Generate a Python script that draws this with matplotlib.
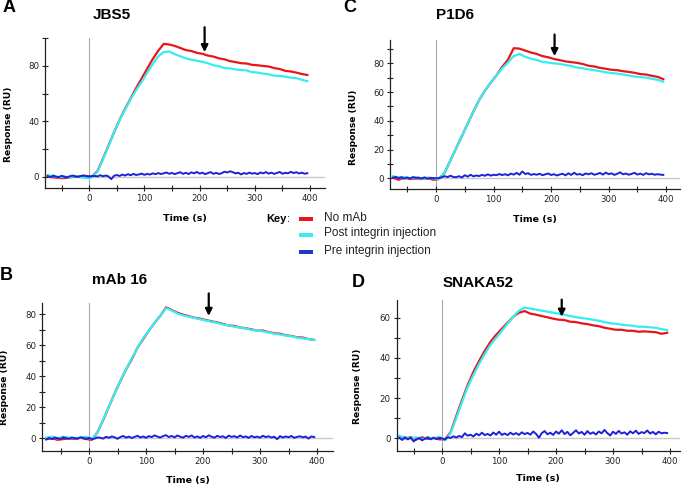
import numpy as np
import matplotlib
matplotlib.use("Agg")
import matplotlib.pyplot as plt
from matplotlib.patches import Rectangle

# ---------------- data ----------------
# red / cyan traces sampled every 10 s from -75 s to 395 s
t_rc = np.arange(-75, 400, 10)
# blue traces sampled every 5 s from -75 s to 395 s
t_b = np.arange(-75, 400, 5)

titles = ["JBS5", "P1D6", "mAb 16", "SNAKA52"]
letters = ["A", "C", "B", "D"]
series_names = ["No mAb", "Post integrin injection", "Pre integrin injection"]

red_A = [0.5, -0.5, -1.0, -1.0, -0.5, 0.0, 0.3, 0.5,
         0.0, 4.0, 13.0, 22.5, 32.0, 41.0, 49.0, 56.5,
         64.0, 71.0, 78.0, 85.0, 91.0, 96.0, 95.5, 94.5,
         93.0, 91.5, 90.8, 89.5, 88.8, 87.5, 86.8, 85.5,
         84.8, 83.5, 82.8, 82.0, 81.8, 80.8, 80.5, 80.0,
         79.6, 78.5, 77.8, 76.5, 76.0, 75.2, 74.2, 73.5]
cyan_A = [1.0, 0.5, -0.5, 0.0, -0.5, 0.5, -0.5, -1.0,
          -0.5, 3.5, 12.5, 22.0, 32.0, 41.0, 48.5, 56.0,
          62.5, 68.5, 75.0, 81.5, 87.0, 90.0, 90.5, 88.5,
          87.0, 85.5, 84.5, 83.8, 83.0, 82.0, 80.5, 79.8,
          78.5, 78.2, 77.5, 77.0, 76.8, 75.5, 75.2, 74.5,
          74.0, 73.0, 72.8, 72.3, 71.5, 71.2, 70.0, 69.0]
blue_A = [0.5, -0.5, 0.8, 0.0, -0.3, 0.6, 0.0, -0.5, 0.3, 0.8,
          0.2, -0.2, 0.5, 0.9, 0.3, 0.0, 0.4, 0.5, 0.2, 1.0,
          0.3, 0.8, 0.2, -1.8, 0.6, 1.2, 0.5, 1.5, 0.8, 1.8,
          1.0, 2.0, 1.2, 1.6, 2.2, 1.3, 2.0, 1.5, 2.4, 1.8,
          2.6, 1.9, 2.4, 3.0, 2.1, 2.7, 1.8, 2.6, 3.2, 2.0,
          2.8, 1.9, 3.1, 2.4, 3.4, 2.2, 2.9, 1.8, 2.6, 3.3,
          2.0, 2.8, 1.9, 2.5, 3.6, 3.0, 3.9, 3.2, 2.4, 2.8,
          1.6, 2.6, 2.0, 2.9, 2.2, 2.6, 1.8, 3.0, 2.4, 3.3,
          2.2, 2.9, 2.0, 2.7, 3.4, 2.1, 2.8, 2.4, 3.5, 2.6,
          3.2, 2.3, 2.9, 2.1, 2.5]

red_C = [0.5, -1.0, 0.5, -0.5, 0.0, -0.5, 0.3, -1.0,
         -0.5, 4.0, 12.5, 21.0, 29.5, 38.0, 46.5, 54.5,
         61.0, 66.5, 71.5, 77.5, 82.5, 90.5, 90.2, 88.8,
         87.5, 86.5, 85.0, 84.2, 83.0, 82.2, 81.3, 80.8,
         80.3, 79.5, 78.3, 77.8, 76.8, 76.2, 75.5, 75.2,
         74.5, 74.0, 73.4, 72.5, 72.2, 71.3, 70.6, 69.0]
cyan_C = [1.5, 0.5, 1.0, 0.0, 0.8, -0.3, 0.5, 0.0,
          -0.5, 4.0, 12.5, 21.0, 29.5, 38.0, 46.5, 54.5,
          61.0, 66.5, 71.5, 76.5, 80.5, 85.0, 86.5, 84.5,
          83.2, 82.3, 81.0, 80.5, 80.0, 79.6, 78.8, 78.2,
          77.0, 76.5, 75.8, 75.2, 74.5, 73.8, 73.2, 72.8,
          72.2, 71.5, 70.8, 70.5, 70.0, 69.2, 68.5, 67.2]
blue_C = [0.5, 1.0, 0.2, 0.8, -0.2, 0.6, 0.0, 0.9, 0.3, 0.5,
          0.0, 0.7, -0.3, 0.4, 0.2, 0.0, 0.3, 0.8, 1.5, 0.9,
          1.8, 1.0, 0.8, 1.5, 0.6, 2.2, 1.2, 2.5, 1.4, 2.0,
          1.6, 2.4, 1.8, 2.8, 1.9, 2.5, 2.2, 3.0, 2.3, 2.9,
          2.1, 3.3, 2.6, 3.8, 2.5, 4.8, 3.0, 3.6, 2.4, 3.0,
          2.5, 3.2, 2.2, 2.8, 3.4, 2.3, 2.9, 2.0, 2.7, 3.2,
          2.1, 3.5, 2.4, 3.9, 2.6, 3.0, 2.2, 3.4, 2.8, 3.6,
          2.5, 3.0, 3.8, 2.6, 4.0, 2.9, 3.5, 2.4, 3.2, 4.2,
          2.8, 3.4, 2.5, 3.1, 3.9, 2.6, 3.3, 2.4, 3.6, 2.8,
          3.2, 2.5, 2.9, 2.6, 2.4]

red_B = [-0.5, 0.0, -1.0, -0.5, 0.0, -0.5, 0.3, -0.5,
         -1.0, 4.0, 12.0, 20.5, 29.0, 37.0, 44.5, 51.0,
         58.5, 64.0, 69.5, 74.5, 79.0, 84.5, 82.8, 81.0,
         79.8, 78.8, 77.8, 77.2, 76.3, 75.5, 74.8, 73.8,
         72.8, 72.5, 71.5, 71.0, 70.3, 69.5, 69.5, 68.5,
         67.8, 67.5, 66.5, 66.0, 65.2, 65.0, 64.0, 63.5]
cyan_B = [0.5, 1.0, 0.0, 1.0, 0.5, 0.0, 0.5, 1.0,
          -0.5, 4.0, 12.3, 20.5, 29.0, 37.0, 44.5, 51.5,
          58.5, 64.5, 69.5, 74.5, 79.0, 84.0, 82.5, 80.5,
          79.3, 78.5, 77.6, 76.8, 76.0, 75.2, 74.5, 73.5,
          72.8, 72.0, 71.5, 70.8, 70.0, 69.5, 69.0, 68.3,
          67.5, 67.0, 66.3, 65.8, 65.0, 64.5, 64.0, 63.5]
blue_B = [-0.8, 0.2, -0.5, 0.5, 0.0, -0.4, 0.6, 0.0, -0.3, 0.5,
          0.1, -0.2, 0.6, 0.2, -0.3, 0.3, -0.5, -0.2, 0.6, 0.3,
          -0.2, 1.0, 0.3, 1.2, 0.6, -0.3, 0.8, 1.5, 0.4, 1.1,
          0.2, 0.9, 1.6, 0.5, 1.2, 0.3, 1.4, 0.8, 1.9, 1.1,
          0.5, 1.4, 2.0, 0.8, 1.5, 0.6, 1.8, 1.0, 0.4, 1.6,
          0.9, 1.8, 0.5, 1.2, 0.3, 1.5, 0.7, 1.9, 1.0, 0.4,
          1.6, 0.8, 1.3, 0.2, 1.7, 0.9, 1.4, 0.5, 1.8, 0.7,
          1.2, 0.3, 1.5, 0.6, 1.1, 0.4, 1.6, 0.8, 1.3, 0.5,
          1.0, -0.6, 1.4, 0.5, 1.2, 0.7, 1.5, 0.3, 0.9, 1.3,
          0.6, 1.1, -0.2, 1.2, 0.8]

red_D = [1.0, 0.0, 0.5, -0.5, 0.5, -0.3, 0.2, -0.5,
         -0.5, 3.0, 11.0, 19.0, 26.5, 33.0, 38.5, 43.5,
         48.0, 51.5, 54.5, 57.5, 60.5, 62.5, 63.3, 62.0,
         61.5, 60.8, 60.2, 59.5, 59.0, 58.8, 58.0, 57.8,
         57.2, 56.8, 56.2, 55.8, 55.0, 54.5, 54.0, 54.0,
         53.5, 53.5, 53.0, 53.2, 53.0, 52.8, 52.0, 52.5]
cyan_D = [1.0, 0.5, 0.0, 0.5, -0.5, 0.5, 0.0, 0.8,
          -1.0, 2.5, 10.0, 18.0, 25.5, 31.5, 37.0, 42.0,
          46.5, 50.0, 53.5, 57.0, 60.5, 63.5, 65.0, 64.5,
          64.0, 63.5, 63.0, 62.5, 62.0, 61.5, 60.8, 60.3,
          59.8, 59.5, 59.0, 58.5, 57.8, 57.2, 57.0, 56.5,
          56.2, 56.0, 55.5, 55.5, 55.2, 55.0, 54.3, 53.8]
blue_D = [0.3, -0.8, 0.5, -0.5, 0.4, -1.5, -0.6, 0.2, -1.0, -0.2,
          0.5, -0.5, 0.3, -0.3, 0.2, 0.0, -0.6, 0.5, 0.2, 1.0,
          0.4, 1.2, 0.6, 2.5, 1.3, 1.8, 0.9, 2.3, 1.5, 2.8,
          1.6, 2.2, 1.4, 2.9, 1.8, 3.3, 1.7, 2.4, 1.6, 2.8,
          1.9, 2.6, 1.7, 3.0, 2.1, 2.7, 1.8, 3.4, 2.2, 0.3,
          2.6, 3.6, 2.0, 2.8, 1.7, 3.4, 2.3, 4.0, 2.1, 3.2,
          1.5, 2.7, 4.0, 2.4, 3.2, 1.8, 3.6, 2.2, 3.0, 1.9,
          3.4, 2.5, 4.2, 2.6, 1.4, 3.3, 2.2, 3.7, 2.4, 3.0,
          1.8, 3.5, 2.5, 3.8, 2.2, 3.1, 2.6, 3.9, 2.4, 3.2,
          2.0, 3.3, 2.5, 2.8, 2.6]

reds = [red_A, red_C, red_B, red_D]
cyans = [cyan_A, cyan_C, cyan_B, cyan_D]
blues = [blue_A, blue_C, blue_B, blue_D]

# arrow markers (time, tail value, tip value)
arrow_t = [209, 206, 210, 210]
arrow_tail = [108, 100, 93.5, 69]
arrow_tip = [90, 85, 79, 60.5]

# y tick settings per panel
y_major = [[0, 40, 80], [0, 20, 40, 60, 80], [0, 20, 40, 60, 80], [0, 20, 40, 60]]
y_minor = [[20, 60, 100], [10, 30, 50, 70, 90], [10, 30, 50, 70], [10, 30, 50]]
x_major = [0, 100, 200, 300, 400]
x_minor = [-50, 50, 150, 250, 350]

# ---------------- layout ----------------
W, H = 683, 487
RED = "#e8161a"
CYAN = "#33eef2"
BLUE = "#1c22d8"
BLUE_KEY = "#1b3bc0"

fig = plt.figure(figsize=(W / 100, H / 100), dpi=100)

# axes rects in pixels: left, right, top, bottom
rects = [(45, 325, 38.3, 188), (390, 680, 40, 189), (42, 333, 302.7, 451), (396.7, 680, 300, 451)]
xlims = [(-80, 427), (-80, 424), (-82.5, 428), (-79.5, 417.5)]
ylims = [(-8.2, 100), (-7.4, 96.2), (-8.2, 87.5), (-6.3, 68.8)]

title_pos = [(112, 15), (455, 15), (120, 280), (478, 283)]
letter_pos = [(3, 8), (343, 8), (0, 275), (352, 282.5)]
xlabel_pos = [(185, 218), (535, 219), (188, 480), (538, 479)]
ylabel_pos = [(9, 124), (353, 127), (5, 387), (358, 386)]


def fx(px):
    return px / W


def fy(py):
    return 1 - py / H


for i in range(4):
    l, r, t, b = rects[i]
    ax = fig.add_axes([fx(l), fy(b), (r - l) / W, (b - t) / H])
    ax.set_xlim(*xlims[i])
    ax.set_ylim(*ylims[i])
    ax.axhline(0, color="#c8c8c8", lw=1.0, zorder=0)
    ax.axvline(0, color="#a8a8a8", lw=0.8, zorder=0)
    ax.plot(t_rc, reds[i], color=RED, lw=1.6, zorder=2)
    ax.plot(t_rc, cyans[i], color=CYAN, lw=1.6, zorder=3)
    ax.plot(t_b, blues[i], color=BLUE, lw=1.4, zorder=4)

    for s in ["top", "right"]:
        ax.spines[s].set_visible(False)
    for s in ["left", "bottom"]:
        ax.spines[s].set_linewidth(0.9)
        ax.spines[s].set_color("#222222")

    ax.set_xticks(x_major)
    ax.set_xticks(x_minor, minor=True)
    ax.set_yticks(y_major[i])
    ax.set_yticks(y_minor[i], minor=True)
    ax.tick_params(axis="both", which="both", direction="inout", length=4.5,
                   width=0.8, color="#222222", labelsize=6.2, labelcolor="#222222",
                   pad=2)
    for lab in ax.get_xticklabels() + ax.get_yticklabels():
        lab.set_family(["DejaVu Sans"])

    ax.annotate("", xy=(arrow_t[i], arrow_tip[i]), xytext=(arrow_t[i], arrow_tail[i]),
                arrowprops=dict(arrowstyle="-|>", color="black", lw=1.6,
                                mutation_scale=10, shrinkA=0, shrinkB=0),
                annotation_clip=False, zorder=6)

    fig.text(fx(title_pos[i][0]), fy(title_pos[i][1]), titles[i], ha="center", va="center",
             fontsize=11, fontweight="bold", family=["Liberation Sans", "DejaVu Sans"])
    fig.text(fx(letter_pos[i][0]), fy(letter_pos[i][1]), letters[i], ha="left", va="center",
             fontsize=13, fontweight="bold", family=["Liberation Sans", "DejaVu Sans"])
    fig.text(fx(xlabel_pos[i][0]), fy(xlabel_pos[i][1]), "Time (s)", ha="center", va="center",
             fontsize=6.8, fontweight="bold", family=["DejaVu Sans"])
    fig.text(fx(ylabel_pos[i][0]), fy(ylabel_pos[i][1]), "Response (RU)", ha="center",
             va="center", rotation=90, fontsize=6.6, fontweight="bold", family=["DejaVu Sans"])

# ---------------- key ----------------
fig.text(fx(287), fy(219.5), "Key", ha="right", va="center", fontsize=8,
         fontweight="bold", family=["Liberation Sans", "DejaVu Sans"])
fig.text(fx(287), fy(219.5), ":", ha="left", va="center", fontsize=8,
         family=["Liberation Sans", "DejaVu Sans"])
key_rows = [219.3, 234.7, 252.3]
key_cols = [RED, CYAN, BLUE_KEY]
for yk, ck, name in zip(key_rows, key_cols, series_names):
    fig.patches.append(Rectangle((fx(298.5), fy(yk + 2)), 14.5 / W, 4 / H,
                                 transform=fig.transFigure, color=ck, lw=0))
    fig.text(fx(324), fy(yk - 1.5), name, ha="left", va="center", fontsize=8.5,
             family=["Liberation Sans", "DejaVu Sans"], color="#222222")

fig.savefig("out.png", dpi=100)
